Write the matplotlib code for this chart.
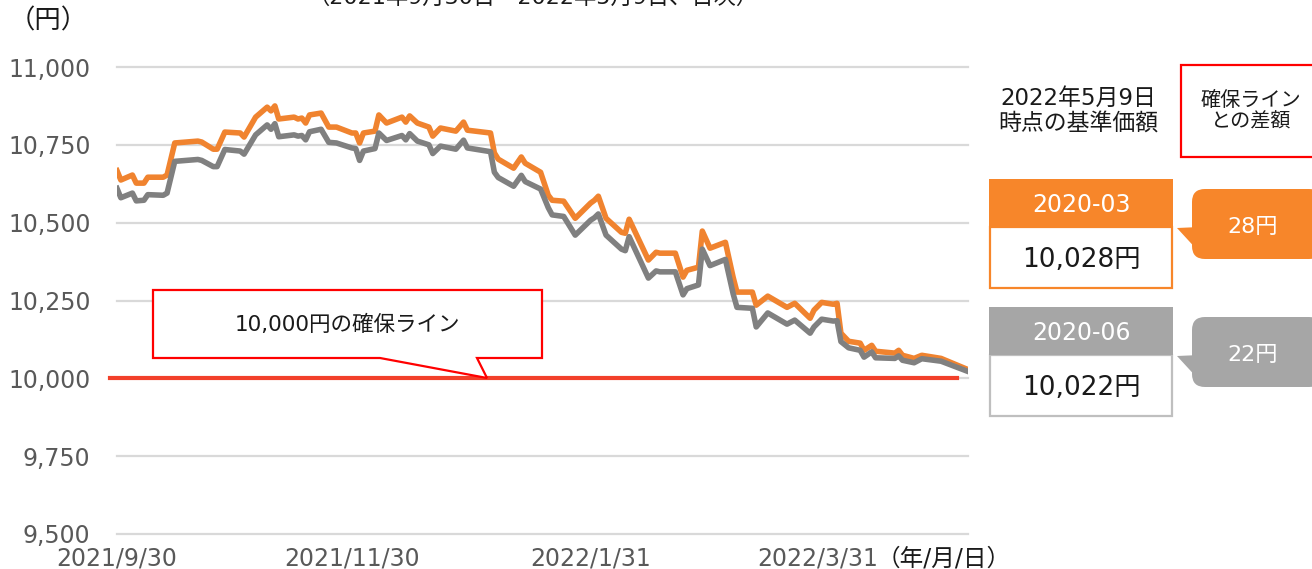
import matplotlib
matplotlib.use("Agg")
import matplotlib.pyplot as plt
import matplotlib.patches as mpatches
import matplotlib.transforms as mtrans
import pandas as pd

# ======================================
# Data
# ======================================
dates = [
    "2021-09-30", "2021-10-01", "2021-10-04", "2021-10-05", "2021-10-07", "2021-10-08",
    "2021-10-12", "2021-10-13", "2021-10-15", "2021-10-18", "2021-10-21", "2021-10-22",
    "2021-10-25", "2021-10-26", "2021-10-28", "2021-11-01", "2021-11-02", "2021-11-05",
    "2021-11-08", "2021-11-09", "2021-11-10", "2021-11-11", "2021-11-15", "2021-11-16",
    "2021-11-17", "2021-11-18", "2021-11-19", "2021-11-22", "2021-11-24", "2021-11-26",
    "2021-11-30", "2021-12-01", "2021-12-02", "2021-12-03", "2021-12-06", "2021-12-07",
    "2021-12-09", "2021-12-13", "2021-12-14", "2021-12-15", "2021-12-17", "2021-12-20",
    "2021-12-21", "2021-12-23", "2021-12-27", "2021-12-29", "2021-12-30", "2022-01-05",
    "2022-01-06", "2022-01-07", "2022-01-11", "2022-01-13", "2022-01-14", "2022-01-18",
    "2022-01-20", "2022-01-21", "2022-01-24", "2022-01-27", "2022-01-31", "2022-02-01",
    "2022-02-02", "2022-02-04", "2022-02-08", "2022-02-09", "2022-02-10", "2022-02-15",
    "2022-02-17", "2022-02-18", "2022-02-22", "2022-02-24", "2022-02-25", "2022-02-28",
    "2022-03-01", "2022-03-03", "2022-03-07", "2022-03-09", "2022-03-10", "2022-03-14",
    "2022-03-15", "2022-03-18", "2022-03-23", "2022-03-25", "2022-03-29", "2022-03-30",
    "2022-04-01", "2022-04-04", "2022-04-05", "2022-04-06", "2022-04-08", "2022-04-11",
    "2022-04-12", "2022-04-14", "2022-04-15", "2022-04-20", "2022-04-21", "2022-04-22",
    "2022-04-25", "2022-04-27", "2022-05-02", "2022-05-09",
]

fund_2003 = [
    10667, 10637, 10653, 10627, 10627, 10646,
    10646, 10653, 10756, 10759, 10762, 10759,
    10736, 10736, 10791, 10788, 10775, 10839,
    10871, 10859, 10875, 10833, 10839, 10833,
    10836, 10820, 10846, 10852, 10807, 10807,
    10788, 10788, 10756, 10788, 10794, 10846,
    10820, 10839, 10823, 10843, 10820, 10807,
    10778, 10804, 10794, 10823, 10797, 10788,
    10724, 10704, 10675, 10711, 10691, 10662,
    10588, 10572, 10569, 10514, 10563, 10572,
    10585, 10514, 10469, 10466, 10511, 10380,
    10405, 10402, 10402, 10325, 10347, 10357,
    10473, 10418, 10437, 10325, 10277, 10277,
    10235, 10264, 10228, 10241, 10193, 10219,
    10244, 10238, 10241, 10145, 10119, 10113,
    10090, 10106, 10087, 10081, 10090, 10074,
    10064, 10074, 10064, 10028,
]

fund_2006 = [
    10610, 10580, 10595, 10570, 10572, 10590,
    10588, 10595, 10697, 10700, 10703, 10700,
    10680, 10680, 10735, 10730, 10720, 10782,
    10814, 10800, 10818, 10776, 10782, 10778,
    10780, 10766, 10792, 10800, 10758, 10756,
    10740, 10738, 10700, 10730, 10738, 10788,
    10764, 10780, 10766, 10786, 10762, 10750,
    10722, 10746, 10736, 10765, 10740, 10728,
    10662, 10645, 10617, 10652, 10632, 10608,
    10548, 10525, 10520, 10460, 10508, 10516,
    10528, 10460, 10415, 10410, 10455, 10322,
    10345, 10342, 10342, 10268, 10288, 10300,
    10415, 10362, 10382, 10272, 10228, 10225,
    10165, 10210, 10174, 10187, 10145, 10165,
    10190, 10184, 10185, 10118, 10098, 10090,
    10068, 10085, 10066, 10064, 10072, 10058,
    10050, 10063, 10055, 10022,
]

floor_value = 10000
y_ticks = [9500, 9750, 10000, 10250, 10500, 10750, 11000]
x_ticks = ["2021-09-30", "2021-11-30", "2022-01-31", "2022-03-31"]
x_tick_labels = ["2021/9/30", "2021/11/30", "2022/1/31", "2022/3/31"]

fund_names = ["2020-03", "2020-06"]
latest_values = ["10,028円", "10,022円"]
gaps = ["28円", "22円"]

# ======================================
# Style
# ======================================
# Verdana-like Latin + Japanese fallback (close to Meiryo)
plt.rcParams["font.family"] = ["DejaVu Sans", "Noto Sans CJK JP"]

orange = "#F0832F"
orange_box = "#F7862A"
gray_line = "#808080"
gray_box = "#A6A6A6"
red = "#FF0000"
red_line = "#F2402A"
tick_color = "#595959"
grid_color = "#D9D9D9"
text_color = "#1a1a1a"

W, H = 1312, 569
fig = plt.figure(figsize=(W / 100, H / 100), dpi=100, facecolor="white")

ax = fig.add_axes([117 / W, 1 - 534 / H, 851 / W, 467 / H])
ax.set_facecolor("none")

x = pd.to_datetime(dates)
ax.plot(x, fund_2003, color=orange, linewidth=4.0, solid_joinstyle="round", zorder=3)
ax.plot(x, fund_2006, color=gray_line, linewidth=4.0, solid_joinstyle="round", zorder=4)

# 10,000 yen floor line (a bit wider than the plot on the left)
tr = mtrans.blended_transform_factory(ax.transAxes, ax.transData)
ax.plot([-7 / 851, 840 / 851], [floor_value, floor_value], transform=tr,
        color=red_line, linewidth=3.0, clip_on=False, zorder=2)

ax.set_xlim(pd.Timestamp("2021-09-30"), pd.Timestamp("2022-05-09"))
ax.set_ylim(9500, 11000)
ax.set_yticks(y_ticks)
ax.set_yticklabels([f"{v:,}" for v in y_ticks])
ax.set_xticks(pd.to_datetime(x_ticks))
ax.set_xticklabels(x_tick_labels)
ax.tick_params(axis="y", length=0, pad=19, labelsize=17, labelcolor=tick_color)
ax.tick_params(axis="x", length=0, pad=9, labelsize=17, labelcolor=tick_color)
ax.grid(axis="y", color=grid_color, linewidth=1.6)
ax.grid(axis="x", visible=False)
for s in ax.spines.values():
    s.set_visible(False)
for gl in ax.get_ygridlines():
    gl.set_clip_on(False)

# ======================================
# Overlay in pixel coordinates for the annotation boxes
# ======================================
ov = fig.add_axes([0, 0, 1, 1], zorder=5)
ov.set_xlim(0, W)
ov.set_ylim(H, 0)
ov.axis("off")
ov.patch.set_alpha(0)

ov.text(48, 21, "（円）", ha="center", va="center", fontsize=19, color=text_color)
ov.text(533, -3, "（2021年9月30日～2022年5月9日、日次）", ha="center", va="center",
        fontsize=16, color=text_color)
ov.text(944, 558, "（年/月/日）", ha="center", va="center", fontsize=17, color=text_color)

# callout on the chart
callout = mpatches.Polygon(
    [(153, 290), (542, 290), (542, 358), (477, 358), (487, 378), (380, 358), (153, 358)],
    closed=True, facecolor="white", edgecolor=red, linewidth=1.6, zorder=3)
ov.add_patch(callout)
ov.text(347, 325, "10,000円の確保ライン", ha="center", va="center", fontsize=15.5,
        color=text_color)

# right side headers
ov.text(1078, 111, "2022年5月9日\n時点の基準価額", ha="center", va="center",
        fontsize=16.5, color=text_color, linespacing=1.15)
ov.add_patch(mpatches.Rectangle((1181, 65), 140, 92, facecolor="white",
                                edgecolor=red, linewidth=1.6, clip_on=False))
ov.text(1251, 111, "確保ライン\nとの差額", ha="center", va="center",
        fontsize=14.5, color=text_color, linespacing=1.2)

# fund boxes + callouts
box_tops = [179, 307]
head_colors = [orange_box, gray_box]
edge_colors = [orange_box, "#BFBFBF"]
for top, name, val, gap, hc, ec in zip(box_tops, fund_names, latest_values, gaps,
                                       head_colors, edge_colors):
    ov.add_patch(mpatches.Rectangle((990, top + 48), 182, 61, facecolor="white",
                                    edgecolor=ec, linewidth=1.6))
    ov.add_patch(mpatches.Rectangle((989, top), 184, 48, facecolor=hc, edgecolor="none"))
    ov.text(1081, top + 26, name, ha="center", va="center", fontsize=17, color="white")
    ov.text(1081, top + 81, val, ha="center", va="center", fontsize=19, color=text_color)

    ctop = top + 10
    ov.add_patch(mpatches.FancyBboxPatch((1192, ctop), 130, 70,
                                         boxstyle="round,pad=0,rounding_size=13",
                                         facecolor=hc, edgecolor="none", clip_on=False))
    ov.add_patch(mpatches.Polygon([(1177, ctop + 39), (1200, ctop + 38), (1200, ctop + 64)],
                                  closed=True, facecolor=hc, edgecolor="none"))
    ov.text(1253, ctop + 38, gap, ha="center", va="center", fontsize=16, color="white")

fig.savefig("out.png", dpi=100, facecolor="white")
